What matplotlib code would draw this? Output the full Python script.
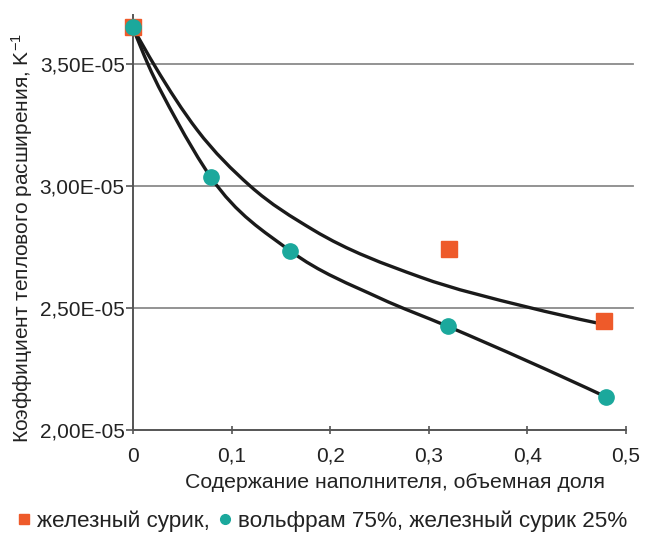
import numpy as np
import matplotlib
matplotlib.use("Agg")
import matplotlib.pyplot as plt
from matplotlib.path import Path
from matplotlib.patches import PathPatch
from matplotlib.lines import Line2D
from matplotlib.ticker import FuncFormatter

plt.rcParams['font.family'] = ['Liberation Sans', 'DejaVu Sans']
plt.rcParams['mathtext.fontset'] = 'custom'
plt.rcParams['mathtext.rm'] = 'Liberation Sans'
plt.rcParams['mathtext.it'] = 'Liberation Sans'

# data (volume fraction of filler, CTE in 1/K)
x_iron = [0.0, 0.32, 0.478]
y_iron = [3.65e-5, 2.74e-5, 2.445e-5]

x_mix = [0.0, 0.079, 0.159, 0.319, 0.48]
y_mix = [3.65e-5, 3.035e-5, 2.735e-5, 2.425e-5, 2.135e-5]

# trend curves
x_trend_iron = [0.0, 0.0223, 0.0649, 0.1187, 0.1826, 0.291, 0.3996, 0.4706]
y_trend_iron = [3.648e-5, 3.49e-5, 3.23e-5, 3.00e-5, 2.82e-5, 2.627e-5, 2.504e-5, 2.4385e-5]

x_trend_mix = [0.0, 0.015, 0.044, 0.079, 0.159, 0.2505, 0.319, 0.48]
y_trend_mix = [3.648e-5, 3.50e-5, 3.27e-5, 3.035e-5, 2.735e-5, 2.54e-5, 2.425e-5, 2.135e-5]

xticks = [0, 0.1, 0.2, 0.3, 0.4, 0.5]
yticks = [2.0e-5, 2.5e-5, 3.0e-5, 3.5e-5]

label_iron = "железный сурик,"
label_mix = "вольфрам 75%, железный сурик 25%"
xlabel = "Содержание наполнителя, объемная доля"
ylabel = "Коэффициент теплового расширения, K$^{-1}$"

ORANGE = "#EE5A2A"
TEAL = "#1BA89C"


def smooth_path(xs, ys):
    x = np.asarray(xs, float)
    y = np.asarray(ys, float)
    n = len(x)
    h = np.diff(x)
    d = np.diff(y) / h
    m = np.empty(n)
    for i in range(1, n - 1):
        m[i] = (h[i] * d[i - 1] + h[i - 1] * d[i]) / (h[i - 1] + h[i])
    m[0] = d[0] + (d[0] - d[1]) * h[0] / (h[0] + h[1])
    m[-1] = d[-1] + (d[-1] - d[-2]) * h[-1] / (h[-1] + h[-2])
    verts = [(x[0], y[0])]
    codes = [Path.MOVETO]
    for i in range(n - 1):
        verts += [(x[i] + h[i] / 3, y[i] + m[i] * h[i] / 3),
                  (x[i + 1] - h[i] / 3, y[i + 1] - m[i + 1] * h[i] / 3),
                  (x[i + 1], y[i + 1])]
        codes += [Path.CURVE4] * 3
    return Path(verts, codes)


W, H = 647, 534
fig = plt.figure(figsize=(W / 100, H / 100), dpi=100)
ax = fig.add_axes([133 / W, 1 - 430 / H, (626 - 133) / W, (430 - 15) / H])

ax.set_xlim(0, 0.5)
ax.set_ylim(2.0e-5, 3.7e-5)

for yv in yticks[1:]:
    ax.axhline(yv, xmin=0, xmax=1.014, color="#8a8a8a", lw=1.3, clip_on=False, zorder=1)

for sp in ["top", "right"]:
    ax.spines[sp].set_visible(False)
for sp in ["left", "bottom"]:
    ax.spines[sp].set_color("#555555")
    ax.spines[sp].set_linewidth(1.4)

ax.add_patch(PathPatch(smooth_path(x_trend_iron, y_trend_iron), fill=False, ec="#1a1a1a", lw=2.4, zorder=3))
ax.add_patch(PathPatch(smooth_path(x_trend_mix, y_trend_mix), fill=False, ec="#1a1a1a", lw=2.4, zorder=3))

ax.plot(x_iron, y_iron, ls="none", marker="s", ms=11, color=ORANGE, mec=ORANGE, zorder=4, clip_on=False)
ax.plot(x_mix, y_mix, ls="none", marker="o", ms=11, color=TEAL, mec=TEAL, zorder=5, clip_on=False)

ax.set_xticks(xticks)
ax.set_yticks(yticks)
ax.xaxis.set_major_formatter(FuncFormatter(lambda v, p: "0" if v == 0 else f"{v:.1f}".replace(".", ",")))
ax.yaxis.set_major_formatter(FuncFormatter(lambda v, p: f"{v:.2E}".replace(".", ",")))
ax.tick_params(axis="y", direction="out", length=5, width=1.2, color="#555555", pad=1, labelsize=15, labelcolor="#222222")
ax.tick_params(axis="x", direction="inout", length=6, width=1.2, color="#555555", pad=9, labelsize=15, labelcolor="#222222")

fig.text(395 / W, 1 - 483 / H, xlabel, ha="center", va="center", fontsize=15.3, color="#222222")
fig.text(22 / W, 1 - 238 / H, ylabel, ha="center", va="center", rotation=90, fontsize=15, color="#222222")

handles = [
    Line2D([], [], ls="none", marker="s", ms=7, color=ORANGE),
    Line2D([], [], ls="none", marker="o", ms=7, color=TEAL),
]
fig.legend(handles, [label_iron, label_mix], loc="center", bbox_to_anchor=(322 / W, 1 - 521 / H),
           ncol=2, frameon=False, fontsize=16.2, handlelength=0.6, handletextpad=0.3,
           columnspacing=0.35, borderpad=0, labelcolor="#222222")

fig.savefig("out.png", dpi=100)
